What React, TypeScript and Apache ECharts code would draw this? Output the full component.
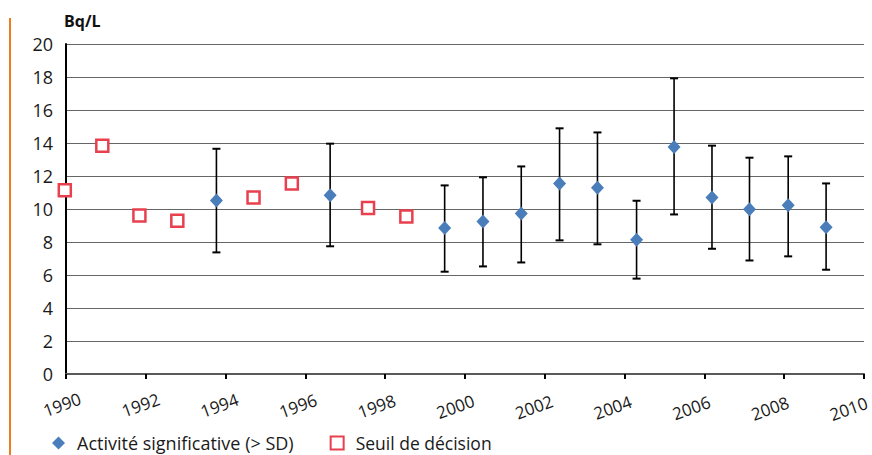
import React, { useEffect, useRef } from 'react';
import * as echarts from 'echarts';

// Seuil de décision (open red squares)
const seuilYears = [1989.97, 1990.91, 1991.84, 1992.79, 1994.7, 1995.66, 1997.57, 1998.53];
const seuilValues = [11.13, 13.84, 9.61, 9.29, 10.7, 11.55, 10.06, 9.55];

// Activité significative (> SD) with uncertainty bars
const activiteYears = [1993.77, 1996.62, 1999.49, 2000.45, 2001.41, 2002.37, 2003.32, 2004.3, 2005.24, 2006.19, 2007.13, 2008.1, 2009.05];
const activiteValues = [10.52, 10.83, 8.85, 9.25, 9.72, 11.55, 11.29, 8.14, 13.76, 10.7, 9.98, 10.22, 8.89];
const activiteLow = [7.37, 7.74, 6.2, 6.52, 6.76, 8.1, 7.86, 5.78, 9.67, 7.59, 6.88, 7.13, 6.32];
const activiteHigh = [13.65, 13.96, 11.43, 11.92, 12.58, 14.89, 14.64, 10.5, 17.92, 13.84, 13.11, 13.19, 11.55];

// Axis tick labels
const xTickYears = [1990, 1992, 1994, 1996, 1998, 2000, 2002, 2004, 2006, 2008, 2010];
const yTickValues = [0, 2, 4, 6, 8, 10, 12, 14, 16, 18, 20];

const unitLabel = 'Bq/L';
const seriesNames = ['Activité significative (> SD)', 'Seuil de décision'];

const FONT = '"Open Sans", Lato, sans-serif';
const BLUE = '#4A7EBB';
const RED = '#E8404F';

export default function App() {
  const ref = useRef<HTMLDivElement>(null);

  useEffect(() => {
    if (!ref.current) return;
    const chart = echarts.init(ref.current, undefined, { renderer: 'svg' });

    const errData = activiteYears.map((x, i) => [x, activiteLow[i], activiteHigh[i]]);

    // rich styles shifting each rotated label slightly left (as in the source layout)
    const rich: Record<string, any> = {};
    xTickYears.forEach((v, i) => {
      const shift = 4 + (v - xTickYears[0]) * 0.57;
      rich['t' + i] = {
        fontFamily: FONT,
        fontSize: 17,
        color: '#1a1a1a',
        padding: [0, (2 * shift) / Math.cos((20 * Math.PI) / 180), 0, 0],
      };
    });

    chart.setOption({
      animation: false,
      backgroundColor: '#ffffff',
      textStyle: { fontFamily: FONT },
      title: {
        text: unitLabel,
        left: 64,
        top: 13,
        padding: 0,
        textStyle: { fontFamily: FONT, fontSize: 16, fontWeight: 'bold', color: '#111' },
      },
      graphic: [
        {
          type: 'line',
          shape: { x1: 10, y1: 18, x2: 10, y2: 455 },
          style: { stroke: '#EE7D22', lineWidth: 2 },
          silent: true,
        },
      ],
      legend: {
        left: 52,
        top: 433,
        padding: 0,
        itemWidth: 13,
        itemHeight: 13,
        itemGap: 36,
        textStyle: { fontFamily: FONT, fontSize: 18, lineHeight: 20, color: '#1a1a1a', padding: [0, 0, 0, 7] },
        data: [
          { name: seriesNames[0], icon: 'diamond' },
          { name: seriesNames[1], icon: 'rect', textStyle: { fontSize: 17.5, lineHeight: 20 } },
        ],
      },
      grid: { left: 66, right: 8, top: 44, bottom: 81, containLabel: false, outerBoundsMode: 'none' },
      xAxis: {
        type: 'value',
        min: xTickYears[0],
        max: xTickYears[xTickYears.length - 1],
        interval: 2,
        axisLine: { show: true, onZero: false, lineStyle: { color: '#595959', width: 2 } },
        axisTick: { show: true, length: 5, inside: false, lineStyle: { color: '#000', width: 2 } },
        splitLine: { show: false },
        axisLabel: {
          rotate: 20,
          align: 'center',
          verticalAlign: 'middle',
          margin: 29,
          fontFamily: FONT,
          fontSize: 17,
          color: '#1a1a1a',
          formatter: (v: number) => {
            const i = xTickYears.indexOf(v);
            return i >= 0 ? `{t${i}|${v}}` : String(v);
          },
          rich,
        },
      },
      yAxis: {
        type: 'value',
        min: yTickValues[0],
        max: yTickValues[yTickValues.length - 1],
        interval: 2,
        axisLine: { show: true, lineStyle: { color: '#000', width: 2 } },
        axisTick: { show: false },
        splitLine: { show: true, lineStyle: { color: '#666', width: 1 } },
        axisLabel: { margin: 13, fontFamily: FONT, fontSize: 18, color: '#1a1a1a' },
      },
      series: [
        {
          type: 'custom',
          name: 'errorbars',
          z: 2,
          clip: false,
          encode: { x: 0, y: [1, 2] },
          data: errData,
          renderItem: (params: any, api: any) => {
            const x = api.value(0);
            const pLo = api.coord([x, api.value(1)]);
            const pHi = api.coord([x, api.value(2)]);
            const hw = 4;
            const st = { stroke: '#000', lineWidth: 1.6 };
            return {
              type: 'group',
              children: [
                { type: 'line', shape: { x1: pLo[0], y1: pLo[1], x2: pHi[0], y2: pHi[1] }, style: st },
                { type: 'line', shape: { x1: pLo[0] - hw, y1: pLo[1], x2: pLo[0] + hw, y2: pLo[1] }, style: { stroke: '#000', lineWidth: 2 } },
                { type: 'line', shape: { x1: pHi[0] - hw, y1: pHi[1], x2: pHi[0] + hw, y2: pHi[1] }, style: { stroke: '#000', lineWidth: 2 } },
              ],
            };
          },
        },
        {
          type: 'scatter',
          name: seriesNames[0],
          z: 3,
          clip: false,
          symbol: 'diamond',
          symbolSize: [13, 14],
          itemStyle: { color: BLUE, opacity: 1 },
          data: activiteYears.map((x, i) => [x, activiteValues[i]]),
        },
        {
          type: 'scatter',
          name: seriesNames[1],
          z: 4,
          clip: false,
          symbol: 'rect',
          symbolSize: 12,
          itemStyle: { color: '#ffffff', borderColor: RED, borderWidth: 2.5, opacity: 1 },
          data: seuilYears.map((x, i) => [x, seuilValues[i]]),
        },
      ],
    });

    return () => chart.dispose();
  }, []);

  return (
    <div
      ref={ref}
      style={{ position: 'absolute', left: 0, top: 0, width: 872, height: 455 }}
    />
  );
}
